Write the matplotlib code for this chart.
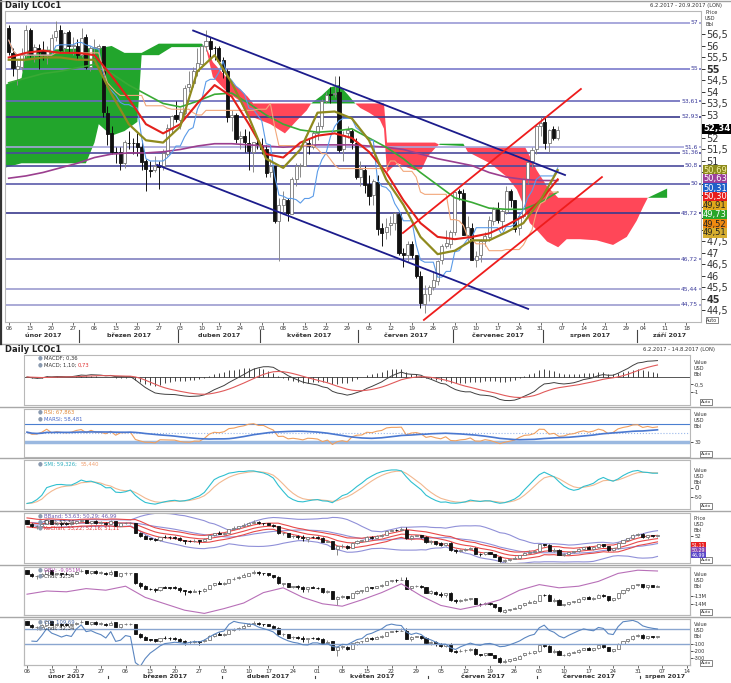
import numpy as np
import pandas as pd
import matplotlib
matplotlib.use("Agg")
import matplotlib.pyplot as plt
from matplotlib.lines import Line2D
from datetime import date, timedelta

# Brent LCOc1, denni svicky 6.2.2017 - 4.8.2017

op = [56.8, 55.7, 55.0, 55.1, 55.6, 56.7, 55.6, 55.9, 55.8, 55.6, 55.8, 56.4, 56.7, 55.9, 56.6, 56.0, 56.0,
      55.6, 56.4, 55.1, 55.9, 55.9, 56.0, 53.1, 52.2, 51.4, 51.4, 50.9, 51.8, 51.8, 51.8, 51.6, 51.0, 50.6, 50.6,
      50.8, 50.8, 51.3, 52.4, 53.0,
      52.8, 53.1, 54.2, 54.4, 54.9, 55.2, 56.0, 56.2, 55.9, 55.9, 55.4, 54.9, 52.9, 53.0, 52.0, 52.1, 51.8, 51.4, 51.8,
      51.7, 51.5, 50.5, 50.8, 48.4, 49.1, 49.3, 48.7, 50.2, 50.8, 50.8, 51.8, 51.6, 52.2, 52.5, 53.6, 53.9, 53.9,
      54.0, 51.5, 52.2, 52.3, 51.8,
      50.3, 50.6, 50.0, 49.5, 50.1, 48.1, 47.9, 48.2, 48.3, 48.7, 47.0, 46.9, 47.4, 46.9, 46.0, 44.8, 45.2, 45.5,
      45.8, 46.7, 47.3, 47.4,
      47.9, 49.7, 49.6, 47.8, 48.1, 46.7, 46.9, 47.5, 47.7, 48.4, 48.9, 48.4, 48.8, 49.7, 49.3, 48.1, 48.6, 50.2,
      51.0, 51.5, 52.5,
      52.7, 51.8, 52.4, 52.0]
hi = [56.9, 55.9, 55.4, 55.9, 56.9, 56.8, 56.1, 56.1, 56.2, 56.0, 56.5, 57.1, 56.9, 56.6, 56.7, 56.4, 56.3,
      56.8, 56.5, 56.0, 56.3, 56.1, 56.0, 53.4, 52.5, 51.6, 51.6, 51.9, 52.3, 52.0, 52.2, 51.9, 51.1, 51.0, 51.2,
      51.0, 51.5, 52.6, 53.0, 53.6,
      53.3, 54.3, 54.9, 55.1, 55.9, 56.1, 56.7, 56.4, 56.0, 56.0, 55.5, 55.0, 53.2, 53.1, 52.3, 52.4, 52.3, 51.5, 52.1,
      52.0, 51.7, 51.1, 50.8, 49.4, 49.7, 49.4, 50.3, 50.9, 50.9, 52.1, 52.0, 52.3, 52.7, 53.7, 54.0, 54.2, 54.7,
      54.7, 52.3, 52.5, 52.4, 52.0,
      51.0, 50.8, 50.4, 50.2, 50.4, 48.3, 48.5, 48.6, 48.8, 48.8, 47.2, 47.5, 47.5, 46.9, 46.2, 45.6, 45.6, 46.2,
      46.7, 47.4, 48.0, 48.0,
      49.7, 49.8, 49.8, 48.6, 48.3, 47.1, 47.6, 47.9, 48.6, 49.0, 49.2, 48.9, 49.9, 49.8, 49.3, 48.7, 50.3, 51.0,
      51.6, 52.6, 52.9,
      52.9, 52.4, 52.5, 52.5]
lo = [55.6, 54.7, 54.3, 54.9, 55.5, 55.5, 55.3, 55.0, 55.4, 55.2, 55.7, 56.2, 55.8, 55.7, 55.7, 55.6, 55.4,
      55.5, 55.0, 54.9, 55.5, 55.5, 52.9, 51.7, 51.3, 50.9, 50.6, 50.7, 51.5, 51.3, 51.2, 50.6, 49.7, 50.3, 50.5,
      49.8, 50.6, 51.2, 52.2, 52.7,
      52.4, 53.0, 54.0, 54.2, 54.7, 55.2, 55.8, 55.5, 55.4, 55.2, 54.6, 52.7, 52.3, 51.8, 51.5, 51.4, 50.6, 50.5, 51.5,
      51.3, 50.3, 50.3, 48.3, 46.64, 48.7, 48.4, 48.7, 49.9, 50.3, 50.8, 51.3, 51.5, 51.9, 52.4, 53.5, 53.5, 53.8,
      51.4, 51.0, 52.0, 51.5, 50.2,
      49.9, 49.6, 49.1, 49.1, 47.8, 47.3, 47.6, 47.8, 48.0, 46.9, 46.4, 46.6, 46.8, 45.9, 44.6, 44.4, 44.9, 45.4,
      45.6, 46.5, 47.2, 47.2,
      47.8, 49.3, 47.8, 47.5, 46.7, 46.4, 46.6, 47.3, 47.5, 48.2, 48.3, 48.0, 48.7, 49.0, 47.9, 47.8, 48.5, 50.0,
      50.7, 51.3, 52.1,
      51.5, 51.4, 51.9, 51.9]
cl = [55.72, 55.05, 55.12, 55.63, 56.70, 55.59, 55.97, 55.75, 55.65, 55.81, 56.36, 56.66, 55.84, 56.58, 55.99,
      56.01, 55.59,
      56.36, 55.08, 55.90, 55.92, 56.01, 53.11, 52.19, 51.37, 51.35, 50.92, 51.81, 51.76, 51.76, 51.62, 50.96,
      50.64, 50.56, 50.80, 50.75, 51.33, 52.42, 52.96, 52.83,
      53.12, 54.17, 54.36, 54.89, 55.24, 55.98, 56.23, 55.86, 55.89, 55.36, 54.89, 52.93, 52.99, 51.96, 52.10,
      51.82, 51.44, 51.82, 51.73,
      51.52, 50.46, 50.79, 48.38, 49.10, 49.34, 48.73, 50.22, 50.77, 50.84, 51.82, 51.65, 52.21, 52.51, 53.61,
      53.87, 53.87, 53.96, 51.46, 52.15, 52.34, 51.84, 50.31,
      50.63, 49.95, 49.47, 50.12, 48.06, 47.86, 48.15, 48.29, 48.72, 47.00, 46.92, 47.37, 46.91, 46.02, 44.82,
      45.22, 45.54, 45.83, 46.65, 47.31, 47.42, 47.92,
      49.67, 49.61, 47.79, 48.11, 46.71, 46.88, 47.52, 47.74, 48.42, 48.91, 48.42, 48.84, 49.70, 49.30, 48.06,
      48.60, 50.20, 50.97, 51.49, 52.52, 52.65,
      51.78, 52.36, 52.01, 52.34]

# klouzave prumery v hlavnim grafu, odecteno po 4 obchodnich dnech
ma_idx = list(range(0, 129, 4))
ma_red = [55.5, 55.7, 55.8, 55.7, 55.7, 55.6, 54.7, 53.7, 52.6, 52.2, 52.6, 53.5, 54.3, 53.8, 52.6, 51.3, 51.15,
          51.8, 52.1, 52.2, 52.0, 51.4, 50.5, 49.3, 48.3, 47.7, 47.6, 47.7, 47.85, 48.2, 48.6, 49.3, 50.2]
ma_olive = [55.4, 55.4, 55.5, 55.5, 55.4, 55.4, 53.9, 52.6, 51.9, 51.8, 52.5, 54.9, 55.6, 54.4, 52.9, 51.1, 50.7,
            51.5, 53.1, 53.15, 52.85, 51.9, 50.2, 49.1, 47.7, 46.95, 47.1, 47.55, 47.55, 47.9, 48.3, 49.3, 50.6]
ma_green = [54.4, 54.6, 54.8, 54.9, 55.05, 55.2, 54.8, 54.3, 53.9, 53.5, 53.35, 53.6, 53.9, 53.95, 53.5, 53.0, 52.6,
            52.35, 52.25, 52.3, 52.4, 52.0, 51.6, 51.1, 50.5, 49.95, 49.4, 49.2, 48.95, 48.9, 48.9, 49.2, 49.65]
ma_purple = [50.25, 50.35, 50.5, 50.7, 50.9, 51.15, 51.3, 51.35, 51.35, 51.4, 51.5, 51.65, 51.75, 51.75, 51.7, 51.65,
             51.6, 51.65, 51.7, 51.7, 51.7, 51.65, 51.6, 51.5, 51.3, 51.1, 50.95, 50.8, 50.5, 50.3, 50.2, 50.15, 50.15]

# Ichimoku oblak (senkou A / B), posunuty o 26 dni
cloud_idx = [-1, 3, 4, 18, 20, 21, 24, 27, 30, 31, 35, 38, 45, 46, 47.6, 50.9, 54, 55.7, 57, 61, 64.4, 67.4,
             69.5, 70.5, 73, 75, 77, 79, 80.8, 82, 84, 86.5, 87.5, 88.2, 89.3, 90.7, 93.1, 94.7, 96.3, 97.7,
             99.4, 100.5, 106, 107, 112.2, 116.2, 118.5, 120.4, 121.5, 123.1, 125.5, 128.1, 130.1, 133.2,
             137.1, 140.9, 144.1, 146.4, 147.9, 149, 153.5]
span_a = [54.3, 54.6, 55.8, 55.9, 55.9, 55.9, 56.0, 55.7, 55.7, 55.7, 56.1, 56.1, 56.1, 55.9, 54.65, 54.0, 53.6,
          52.9, 52.9, 52.6, 52.2, 52.8, 53.2, 53.5, 53.85, 54.2, 54.3, 53.9, 53.5, 53.3, 53.1, 52.8, 52.4, 50.5,
          50.7, 50.9, 50.7, 50.6, 50.65, 51.2, 51.55, 51.75, 51.75, 51.4, 50.9, 50.3, 49.75, 48.9, 48.3, 48.0,
          47.5, 47.25, 47.6, 47.6, 47.55, 47.35, 47.7, 48.4, 49.0, 49.4, 49.8]
span_b = [50.7, 50.9, 50.9, 50.9, 51.8, 52.6, 52.1, 52.3, 52.7, 55.6, 55.6, 55.95, 55.95, 55.95, 55.3, 54.6, 54.1,
          53.8, 53.5, 53.5, 53.5, 53.5, 53.5, 53.5, 53.5, 53.5, 53.5, 53.5, 53.5, 53.5, 53.5, 53.5, 53.5, 51.8,
          51.8, 51.8, 51.8, 51.8, 51.8, 51.8, 51.8, 51.7, 51.65, 51.6, 51.6, 51.6, 51.6, 51.6, 51.2, 50.6, 49.9,
          49.4, 49.4, 49.4, 49.4, 49.4, 49.4, 49.4, 49.4, 49.4, 49.4]

# trendove kanaly (den, cena)
blue_up_x, blue_up_y = [43.0, 129.7], [56.67, 50.39]
blue_lo_x, blue_lo_y = [34.6, 121.1], [50.83, 44.57]
red_up_x, red_up_y = [91.9, 133.4], [47.87, 54.13]
red_lo_x, red_lo_y = [96.8, 138.3], [44.09, 50.30]

levels = [57, 55, 53.61, 52.93, 51.6, 51.36, 50.8, 50, 48.72, 46.72, 45.44, 44.75]
level_colors = ['#9a9ad6', '#7a7acc', '#6a6abb', '#3a3a8c', '#a6a6dc', '#4a4a9c', '#4a4a9c', '#5a5aaa',
                '#3a3a8c', '#8080c0', '#9c9cd0', '#9c9cd0']

# posledni hodnoty indikatoru (pravy okraj)
last_vals = ['50,69', '50,63', '50,31', '50,30', '49,91', '49,73', '49,52', '49,51']
last_cols = ['#8c8a1c', '#9b3f9b', '#1f5fc8', '#e81c1c', '#e0a81c', '#2aa52a', '#ef8a10', '#d6ae30']
last_txt = ['#f4f0a0', 'white', 'white', 'white', '#222222', 'white', '#222222', '#222222']

# OBV v milionech, odecteno po 4 dnech
obv_m = [-12.8, -12.4, -12.5, -12.1, -12.3, -11.8, -13.2, -14.0, -14.8, -15.2, -14.6, -13.9, -12.6, -12.0, -13.2,
         -14.0, -14.3, -13.5, -12.6, -11.5, -13.0, -14.2, -14.7, -14.2, -13.5, -12.3, -11.6, -12.0, -11.8, -11.2,
         -10.2, -9.8, -9.9]

months_cz = ['únor 2017', 'březen 2017', 'duben 2017', 'květen 2017', 'červen 2017', 'červenec 2017',
             'srpen 2017', 'září 2017']

# ---------------------------------------------------------------- kalendar
holidays = {date(2017, 4, 14), date(2017, 8, 28)}
days = []
d = date(2017, 2, 6)
while d <= date(2017, 9, 22):
    if d.weekday() < 5 and d not in holidays:
        days.append(d)
    d += timedelta(days=1)
n = len(cl)
idx = np.arange(n)
week_idx = [i for i in range(len(days)) if i == 0 or days[i].isocalendar()[1] != days[i - 1].isocalendar()[1]]
month_start = [i for i in range(1, len(days)) if days[i].month != days[i - 1].month]

# ---------------------------------------------------------------- indikatory
s_c, s_h, s_l = pd.Series(cl), pd.Series(hi), pd.Series(lo)


def ema(s, k):
    return s.ewm(span=k, adjust=False).mean()


def wilder(x, k):
    # Wilderovo vyhlazeni, start z prumeru prvnich k hodnot
    out = np.empty(len(x))
    avg = np.mean(x[1:k + 1])
    for i in range(len(x)):
        if i > 0:
            avg = (avg * (k - 1) + x[i]) / k
        out[i] = avg
    return out


tenkan = (s_h.rolling(9, min_periods=1).max() + s_l.rolling(9, min_periods=1).min()) / 2
kijun = (s_h.rolling(26, min_periods=1).max() + s_l.rolling(26, min_periods=1).min()) / 2

macd = ema(s_c, 12) - ema(s_c, 26)
macd_sig = ema(macd, 9)
macd_hist = macd - macd_sig

delta = s_c.diff().fillna(0).values
gain = wilder(np.clip(delta, 0, None), 14)
loss = wilder(np.clip(-delta, 0, None), 14)
rsi = pd.Series(100 - 100 / (1 + gain / loss))
marsi = rsi.rolling(20, min_periods=1).mean()

hh = s_h.rolling(10, min_periods=1).max()
ll = s_l.rolling(10, min_periods=1).min()
smi = 100 * ema(ema(s_c - (hh + ll) / 2, 3), 3) / (0.5 * ema(ema(hh - ll, 3), 3))
smi_sig = ema(smi, 4)

bb_mid = s_c.rolling(20, min_periods=2).mean()
bb_sd = s_c.rolling(20, min_periods=2).std(ddof=0)
tp = (s_h + s_l + s_c) / 3
k_mid = ema(tp, 10)
k_rng = ema(s_h - s_l, 10)
tp_ma = tp.rolling(20, min_periods=2).mean()
tp_md = tp.rolling(20, min_periods=2).apply(lambda x: np.abs(x - x.mean()).mean(), raw=True)
cci = (tp - tp_ma) / (0.015 * tp_md)

# ---------------------------------------------------------------- figura
W, H = 731, 683
fig = plt.figure(figsize=(W / 100, H / 100), dpi=100)


def rect(x0, y0, x1, y1):
    return [x0 / W, 1 - y1 / H, (x1 - x0) / W, (y1 - y0) / H]


def ptext(x, y, s, **kw):
    return fig.text(x / W, 1 - y / H, s, **kw)


def num(v):
    return ('%g' % v).replace('.', ',')


def candles(ax, width, minh):
    o, h, l, c = map(np.array, (op, hi, lo, cl))
    up = c >= o
    ax.vlines(idx[up], l[up], h[up], color='#8a8a8a', lw=0.7, zorder=4)
    ax.vlines(idx[~up], l[~up], h[~up], color='#111111', lw=0.7, zorder=4)
    bot = np.minimum(o, c)
    bh = np.maximum(np.abs(c - o), minh)
    ax.bar(idx[up], bh[up], width, bottom=bot[up], facecolor='white', edgecolor='#777777', lw=0.6, zorder=5)
    ax.bar(idx[~up], bh[~up], width, bottom=bot[~up], facecolor='#111111', edgecolor='#111111', lw=0.6, zorder=5)


def frame(ax):
    for sp in ax.spines.values():
        sp.set_color('#b8b8b8')
        sp.set_linewidth(0.8)


def date_axis(ax, xmax, yoff):
    ax.set_xticks([i for i in week_idx if i <= xmax])
    ax.set_xticklabels([days[i].strftime('%d') for i in week_idx if i <= xmax], fontsize=4, color='#333333')
    ax.tick_params(axis='x', length=2, width=0.6, pad=1.2, colors='#555555', labelcolor='#333333')
    tr = ax.get_xaxis_transform()
    bounds = [0] + month_start + [len(days)]
    for k in range(len(bounds) - 1):
        a, b = bounds[k], min(bounds[k + 1] - 1, xmax)
        if a > xmax:
            break
        ax.text((a + b) / 2, yoff, months_cz[k], transform=tr, ha='center', va='center',
                fontsize=4.6, fontweight='bold', color='#333333', clip_on=False)
    for m in month_start:
        if m < xmax:
            ax.plot([m - 0.5, m - 0.5], [yoff + 0.02, yoff - 0.02], transform=tr, color='#444444',
                    lw=0.8, clip_on=False)


# ---------------------------------------------------------------- hlavni graf
ax = fig.add_axes(rect(5, 11, 701, 322))
ax.set_xlim(-0.86, 161.4)
ax.set_ylim(44.0, 57.52)
frame(ax)

ca, cb, ci = np.array(span_a), np.array(span_b), np.array(cloud_idx)
ax.fill_between(ci, ca, cb, where=ca >= cb, interpolate=True, color='#22a52c', lw=0, zorder=1)
ax.fill_between(ci, ca, cb, where=ca < cb, interpolate=True, color='#ff4758', lw=0, zorder=1)

for v, col in zip(levels, level_colors):
    ax.axhline(v, color=col, lw=1.2, zorder=2)
    ax.text(0.996, v, num(v), transform=ax.get_yaxis_transform(), ha='right', va='center', fontsize=4.3,
            color='#3a3a9a', zorder=3, bbox=dict(boxstyle='square,pad=0.12', fc='white', ec='none'))

candles(ax, 0.72, 0.04)

ax.plot(ma_idx, ma_purple, color='#9b3f8f', lw=1.2, zorder=6)
ax.plot(ma_idx, ma_green, color='#3aaa35', lw=1.2, zorder=6)
ax.plot(idx, tenkan, color='#5a9be8', lw=0.8, zorder=6)
ax.plot(idx, kijun, color='#f2a77a', lw=0.8, zorder=6)
ax.plot(ma_idx, ma_red, color='#e3201b', lw=1.5, zorder=7)
ax.plot(ma_idx, ma_olive, color='#8f8a1e', lw=1.6, zorder=7)

ax.plot(blue_up_x, blue_up_y, color='#1c1c8c', lw=1.3, zorder=8)
ax.plot(blue_lo_x, blue_lo_y, color='#1c1c8c', lw=1.3, zorder=8)
ax.plot(red_up_x, red_up_y, color='#ee1c1c', lw=1.3, zorder=8)
ax.plot(red_lo_x, red_lo_y, color='#ee1c1c', lw=1.3, zorder=8)

ax.yaxis.tick_right()
yt = np.arange(44.5, 56.6, 0.5)
ax.set_yticks(yt)
# hodnoty schovane pod barevnymi stitky se nevypisuji
hidden = lambda v: 47.9 < v < 50.9 or v == 52.5
ax.set_yticklabels(['' if hidden(v) else num(v) for v in yt], fontsize=7, color='#222222')
for t, v in zip(ax.get_yticklabels(), yt):
    if v in (45, 55):
        t.set_fontweight('bold')
ax.tick_params(axis='y', length=3, width=0.7, pad=1, colors='#333333')
date_axis(ax, 161, -0.045)

ptext(5, 5, 'Daily LCOc1', fontsize=6, fontweight='bold', color='#222222', va='center')
ptext(722, 5, '6.2.2017 - 20.9.2017 (LON)', fontsize=3.8, color='#333333', ha='right', va='center')
for k, s in enumerate(['Price', 'USD', 'Bbl']):
    ptext(705, 13 + 6 * k, s, fontsize=3.6, color='#333333', va='center')
ptext(703, 129, '52,34', fontsize=6.2, fontweight='bold', color='white', va='center',
      bbox=dict(boxstyle='square,pad=0.1', fc='black', ec='none'))
for k, (s, fc, tc) in enumerate(zip(last_vals, last_cols, last_txt)):
    ptext(703, 170 + 9 * k, s, fontsize=6, color=tc, va='center',
          bbox=dict(boxstyle='square,pad=0.06', fc=fc, ec='none'))
ptext(712, 320, 'Auto', fontsize=3.4, color='#333333', ha='center', va='center',
      bbox=dict(boxstyle='square,pad=0.15', fc='white', ec='#555555', lw=0.5))

# ---------------------------------------------------------------- spodni panely
LX = (-0.61, 134.6)
panels = {}
for name, (y0, y1) in {'macd': (355, 405), 'rsi': (409, 457), 'smi': (460, 509), 'bb': (513, 563),
                       'obv': (567, 615), 'cci': (619, 665)}.items():
    a = fig.add_axes(rect(24, y0, 690, y1))
    a.set_xlim(*LX)
    frame(a)
    a.yaxis.tick_right()
    a.tick_params(axis='y', length=2, width=0.6, pad=1, labelsize=3.8, colors='#333333')
    a.tick_params(axis='x', length=0, labelbottom=False)
    ya = y1 - 2 if name == 'cci' else y1 - 3
    ptext(706, ya, 'Auto', fontsize=3.2, color='#333333', ha='center', va='center',
          bbox=dict(boxstyle='square,pad=0.12', fc='white', ec='#555555', lw=0.5))
    panels[name] = (a, y0, y1)


def legend(y, parts):
    ptext(40, y, '\u25cf', fontsize=4, color='#8a9ab0', ha='center', va='center')
    x = 44
    for s, col in parts:
        ptext(x, y, s, fontsize=3.8, color=col, va='center')
        x += 2.8 * len(s)


def value_lbl(y0, words=('Value', 'USD', 'Bbl')):
    for k, s in enumerate(words):
        ptext(694, y0 + 6 * k, s, fontsize=3.6, color='#333333', va='center')


# MACD
a, y0, y1 = panels['macd']
a.set_ylim(-1.87, 1.47)
a.axhline(0, color='#555555', lw=0.7)
a.vlines(idx, 0, macd_hist, color='#222222', lw=0.6)
a.plot(idx, macd, color='#404040', lw=0.7)
a.plot(idx, macd_sig, color='#e05a5a', lw=0.8)
a.set_yticks([-0.5, -1])
a.set_yticklabels(['-0,5', '-1'])
legend(358, [('MACDF; 0,36', '#333333')])
legend(365, [('MACD; 1,10; ', '#333333'), ('0,73', '#e03030')])
value_lbl(362)
ptext(5, 350, 'Daily LCOc1', fontsize=6, fontweight='bold', color='#222222', va='center')
ptext(715, 350, '6.2.2017 - 14.8.2017 (LON)', fontsize=3.8, color='#333333', ha='right', va='center')

# RSI
a, y0, y1 = panels['rsi']
a.set_ylim(-3, 103)
a.axhline(70, color='#4a7fd0', lw=0.8)
a.axhline(50, color='#9ab8ea', lw=0.8, ls=':')
a.axhline(30, color='#9ab8e0', lw=2.5)
a.plot(idx, rsi, color='#f0a060', lw=0.8)
a.plot(idx, marsi, color='#4a78d0', lw=1.2)
a.set_yticks([30])
a.set_yticklabels(['30'])
legend(412, [('RSI; 67,863', '#e08a3a')])
legend(419, [('MARSI; 58,481', '#4a6ac8')])
value_lbl(414)

# SMI
a, y0, y1 = panels['smi']
a.set_ylim(-110, 142)
a.plot(idx, smi_sig, color='#f2b890', lw=0.8)
a.plot(idx, smi, color='#30c0d0', lw=0.8)
a.set_yticks([0, -50])
a.set_yticklabels(['0', '-50'])
a.get_yticklabels()[0].set_fontsize(5)
legend(464, [('SMI; 59,326; ', '#30b0c0'), ('55,440', '#f0a070')])
value_lbl(470)

# Bollinger + Keltner
a, y0, y1 = panels['bb']
a.set_ylim(44.3, 58.8)
for s in (bb_mid + 2 * bb_sd, bb_mid, bb_mid - 2 * bb_sd):
    a.plot(idx, s, color='#9090d8', lw=0.8, zorder=2)
for s in (k_mid + k_rng, k_mid, k_mid - k_rng):
    a.plot(idx, s, color='#e84a4a', lw=0.8, zorder=3)
candles(a, 0.62, 0.12)
a.set_yticks([52])
a.set_yticklabels(['52'])
legend(516, [('BBand; 53,63; 50,29; 46,99', '#6a5ab0')])
legend(522, [('Cndl; 52,34', '#333333')])
legend(528, [('KeChan; 53,22; 52,16; 51,11', '#e03030')])
value_lbl(518, ('Price', 'USD', 'Bbl'))
for k, (s, fc) in enumerate(zip(['51,11', '50,29', '46,99'], ['#e82020', '#8a48b0', '#5a48c8'])):
    ptext(692, 545 + 5 * k, s, fontsize=3.4, color='white', va='center',
          bbox=dict(boxstyle='square,pad=0.15', fc=fc, ec='none'))

# OBV
a, y0, y1 = panels['obv']
a.set_ylim(43.8, 57.7)
a.set_yticks([])
candles(a, 0.62, 0.12)
a2 = a.twinx()
a2.set_xlim(*LX)
a2.set_ylim(-15.4, -9.4)
a2.plot(ma_idx, obv_m, color='#b870b8', lw=0.8)
a2.set_yticks([-13, -14])
a2.set_yticklabels(['-13M', '-14M'])
a2.tick_params(axis='y', length=2, width=0.6, pad=1, labelsize=3.8, colors='#333333')
frame(a2)
legend(570, [('OBV; -9,951M', '#b050b0')])
legend(576, [('Cndl; 52,34', '#333333')])
value_lbl(574)

# CCI
a, y0, y1 = panels['cci']
a.set_ylim(43.9, 57.4)
a.set_yticks([])
candles(a, 0.62, 0.12)
a2 = a.twinx()
a2.set_xlim(*LX)
a2.set_ylim(-390, 233)
a2.axhline(100, color='#8aa6d0', lw=1.0)
a2.axhline(-100, color='#8aa6d0', lw=1.0)
a2.plot(idx, cci, color='#5b86c0', lw=0.8)
a2.set_yticks([-100, -200, -300])
a2.set_yticklabels(['-100', '-200', '-300'])
a2.tick_params(axis='y', length=2, width=0.6, pad=1, labelsize=3.6, colors='#333333')
frame(a2)
legend(622, [('CCI; 109,69', '#4a6aa8')])
legend(628, [('Cndl; 52,34', '#333333')])
value_lbl(624)
a.tick_params(axis='x', length=2, labelbottom=True)
date_axis(a, 134, -0.26)

# oddelovace oken
for y in (344, 407, 458, 511, 565, 617):
    fig.add_artist(Line2D([0, 1], [1 - y / H, 1 - y / H], color='#a8a8a8', lw=1.0))
fig.add_artist(Line2D([1.2 / W, 1.2 / W], [1 - 344 / H, 1], color='#333333', lw=1.6))
fig.add_artist(Line2D([0, 1], [1 - 0.5 / H, 1 - 0.5 / H], color='#a0a0a0', lw=1.0))

fig.savefig('out.png', dpi=100, facecolor='white')
